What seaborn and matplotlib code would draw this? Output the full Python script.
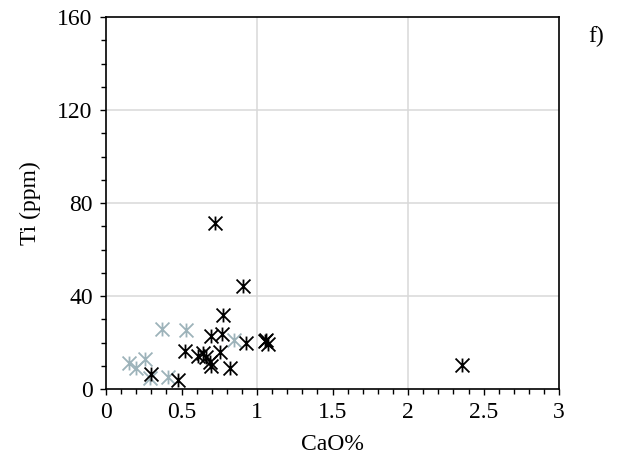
import matplotlib
matplotlib.use('Agg')
import matplotlib.pyplot as plt
import seaborn as sns
import pandas as pd
from matplotlib.path import Path
from matplotlib.ticker import MultipleLocator, FormatStrFormatter

# values (CaO % vs Ti ppm)
grey_cao = [0.15, 0.20, 0.26, 0.29, 0.37, 0.41, 0.53, 0.85]
grey_ti = [11.0, 9.0, 13.0, 4.8, 25.7, 5.0, 25.3, 21.0]

black_cao = [0.30, 0.48, 0.52, 0.61, 0.645, 0.665, 0.69, 0.695, 0.695, 0.72,
             0.755, 0.766, 0.777, 0.82, 0.91, 0.93, 1.05, 1.06, 1.07, 2.36]
black_ti = [6.5, 3.9, 16.3, 14.0, 15.3, 13.9, 11.5, 9.9, 22.8, 71.4,
            16.0, 23.7, 31.8, 8.9, 44.3, 19.6, 20.5, 21.2, 19.5, 10.5]

x_ticks = [0, 0.5, 1, 1.5, 2, 2.5, 3]
y_ticks = [0, 40, 80, 120, 160]

sns.set_style('white')
plt.rcParams['font.family'] = ['Liberation Serif', 'DejaVu Serif']
plt.rcParams['text.color'] = 'black'
plt.rcParams['axes.labelcolor'] = 'black'
plt.rcParams['xtick.color'] = 'black'
plt.rcParams['ytick.color'] = 'black'

# excel-like star marker: X with a vertical bar
star = Path([(-1, -1), (1, 1), (-1, 1), (1, -1), (0, -1), (0, 1)],
            [Path.MOVETO, Path.LINETO, Path.MOVETO, Path.LINETO, Path.MOVETO, Path.LINETO])

fig = plt.figure(figsize=(6.29, 4.65), dpi=100)
ax = fig.add_axes([0.1685, 0.1634, 0.7205, 0.8])

grey = pd.DataFrame({'CaO': grey_cao, 'Ti': grey_ti})
black = pd.DataFrame({'CaO': black_cao, 'Ti': black_ti})

sns.scatterplot(data=grey, x='CaO', y='Ti', marker=star, s=100, color='#9db3ba',
                edgecolor='#9db3ba', linewidth=1.3, ax=ax, zorder=3)
sns.scatterplot(data=black, x='CaO', y='Ti', marker=star, s=100, color='black',
                edgecolor='black', linewidth=1.3, ax=ax, zorder=4)

ax.set_xlim(0, 3)
ax.set_ylim(0, 160)
ax.set_xticks(x_ticks)
ax.set_yticks(y_ticks)
ax.xaxis.set_major_formatter(FormatStrFormatter('%g'))
ax.xaxis.set_minor_locator(MultipleLocator(0.1))
ax.yaxis.set_minor_locator(MultipleLocator(10))

# gridlines only at the inner majors of 1 and 40
for gx in [1, 2]:
    ax.axvline(gx, color='#d9d9d9', lw=1.1, zorder=1)
for gy in [40, 80, 120]:
    ax.axhline(gy, color='#d9d9d9', lw=1.1, zorder=1)

for sp in ax.spines.values():
    sp.set_color('black')
    sp.set_linewidth(1.2)

ax.tick_params(which='major', direction='out', length=4.5, width=1.0,
               labelsize=17, pad=5, bottom=True, left=True)
ax.tick_params(which='minor', direction='out', length=3.5, width=1.0,
               bottom=True, left=True)

ax.set_xlabel('CaO%', fontsize=17, labelpad=8)
ax.set_ylabel('Ti (ppm)', fontsize=17, labelpad=12)
fig.text(0.948, 0.922, 'f)', fontsize=17, ha='center', va='center')

fig.savefig('out.png', dpi=100)
